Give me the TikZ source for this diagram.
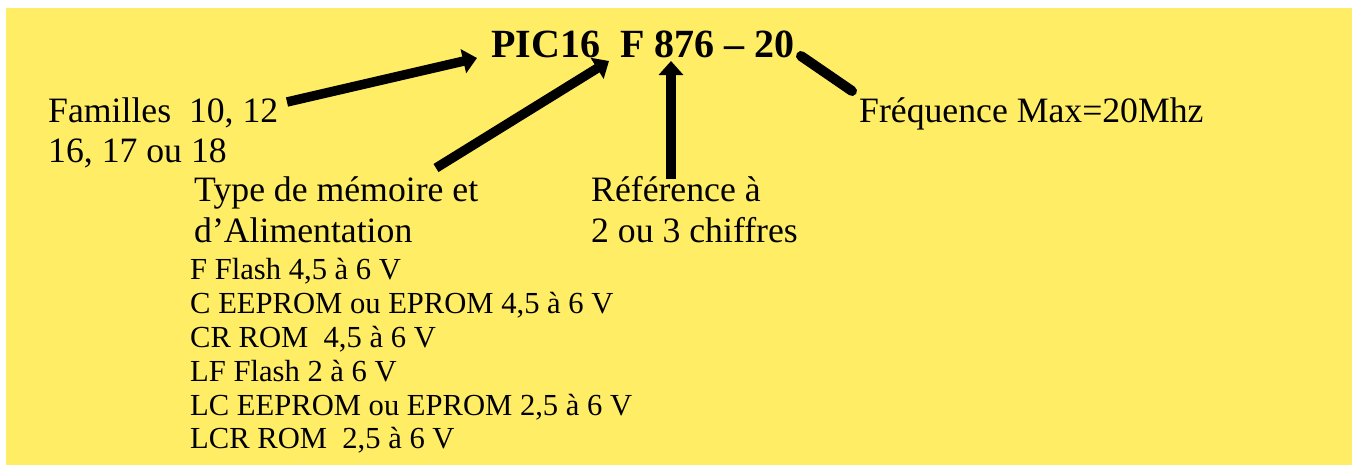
\documentclass[tikz,border=0pt]{standalone}
\usepackage{fontspec}
\setmainfont{Liberation Serif}
\usetikzlibrary{arrows.meta}
\definecolor{padyellow}{RGB}{255,237,102}
\begin{document}
\begin{tikzpicture}[x=1pt,y=-1pt,
  lbl/.style={anchor=base west,inner sep=0pt,font=\fontsize{35.7}{40}\selectfont},
  small/.style={anchor=base west,inner sep=0pt,font=\fontsize{30.6}{34}\selectfont},
  title/.style={anchor=base west,inner sep=0pt,font=\fontsize{40}{44}\selectfont\bfseries},
  fatarrow/.style={line width=9.5pt,-{Triangle[width=24pt,length=14pt]}},
  fatline/.style={line width=10pt,line cap=round}]
\useasboundingbox (0,0) rectangle (1357,466);
\fill[padyellow] (6,8) rectangle (1352,465);

% part number
\node[title] (ref) at (491,57) {PIC16\ \ F 876 -- 20};

% labels
\node[lbl] (fam1) at (48,122) {Familles\ \ 10, 12};
\node[lbl] (fam2) at (48,162) {16, 17 ou 18};
\node[lbl] (type1) at (194,201) {Type de mémoire et};
\node[lbl] (type2) at (194,242) {d’Alimentation};
\node[lbl] (num1) at (591,201) {Référence à};
\node[lbl] (num2) at (591,242) {2 ou 3 chiffres};
\node[lbl] (freq) at (859,122) {Fréquence Max=20Mhz};

% memory / supply variants
\node[small] (v1) at (190,279) {F Flash 4,5 à 6 V};
\node[small] (v2) at (190,313) {C EEPROM ou EPROM 4,5 à 6 V};
\node[small] (v3) at (190,347) {CR ROM\ \ 4,5 à 6 V};
\node[small] (v4) at (190,381) {LF Flash 2 à 6 V};
\node[small] (v5) at (190,415) {LC EEPROM ou EPROM 2,5 à 6 V};
\node[small] (v6) at (190,448) {LCR ROM\ \ 2,5 à 6 V};

% connector ends
\coordinate (famS) at (287,102);
\coordinate (famE) at (477,58);
\coordinate (typeS) at (436,168);
\coordinate (typeE) at (609,61);
\coordinate (numS) at (671,179);
\coordinate (numE) at (671,61);
\coordinate (frqS) at (801,56);
\coordinate (frqE) at (852,91);

\draw[fatarrow] (famS) -- (famE);
\draw[fatarrow] (typeS) -- (typeE);
\draw[fatarrow] (numS) -- (numE);
\draw[fatline] (frqS) -- (frqE);
\end{tikzpicture}
\end{document}
